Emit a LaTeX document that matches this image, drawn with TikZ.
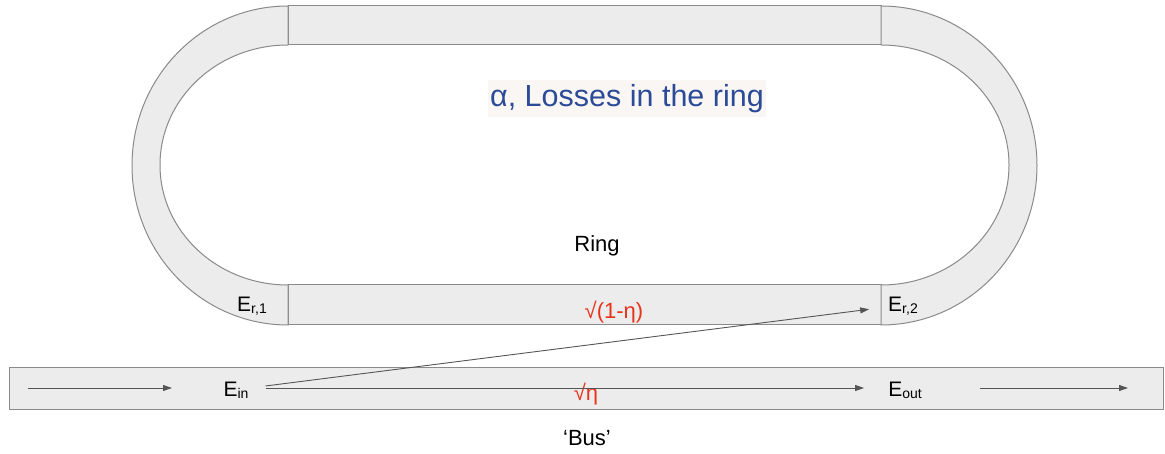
\documentclass[tikz,border=0pt]{standalone}
\usepackage{fontspec}
\setmainfont{Liberation Sans}
\usetikzlibrary{arrows.meta}
\definecolor{wg}{HTML}{ECECEC}
\definecolor{wgline}{HTML}{8A8A8A}
\definecolor{arr}{HTML}{555555}
\definecolor{redt}{HTML}{E8331C}
\definecolor{bluet}{HTML}{2B4A98}
\definecolor{boxbg}{HTML}{FAF6F4}
\tikzset{
  guide/.style={fill=wg, draw=wgline, line width=1pt},
  flow/.style={draw=arr, line width=0.9pt, -{Triangle[length=9pt,width=6pt]}},
  elabel/.style={inner sep=1pt, font=\fontsize{21}{23}\selectfont},
  redlabel/.style={text=redt, font=\fontsize{22}{24}\selectfont},
  plain/.style={font=\fontsize{22}{24}\selectfont}
}
\newcommand{\Esub}[1]{E{\fontsize{14}{16}\selectfont\raisebox{-2pt}{#1}}}
\begin{document}
\begin{tikzpicture}[x=1pt,y=-1pt]
\useasboundingbox (0,0) rectangle (1165,454);
% ring straight parts
\path[guide] (288,6) rectangle (881,45);
\path[guide] (288,285) rectangle (881,325);
% left half annulus
\path[guide] (288,6) arc[start angle=270, end angle=90, x radius=156, y radius=159.5]
  -- (288,285) arc[start angle=90, end angle=270, x radius=128, y radius=120] -- cycle;
% right half annulus
\path[guide] (881,6) arc[start angle=270, end angle=450, x radius=156, y radius=159.5]
  -- (881,285) arc[start angle=90, end angle=-90, x radius=128, y radius=120] -- cycle;
% bus
\path[guide] (9,368) rectangle (1163,409);
% labels
\node[fill=boxbg, text=bluet, font=\fontsize{30.5}{33}\selectfont, minimum width=278pt, minimum height=37pt, inner sep=0pt] (alpha) at (627,99) {α, Losses in the ring};
\node[plain] (ring) at (597,246) {Ring};
\node[plain] (bus) at (587,438) {‘Bus’};
\node[elabel] (Er1) at (252,306) {\Esub{r,1}};
\node[elabel] (Er2) at (903,306) {\Esub{r,2}};
\node[elabel] (Ein) at (236,390) {\Esub{in}};
\node[elabel] (Eout) at (905,390) {\Esub{out}};
\node[redlabel] (sq1) at (614,312) {√(1-η)};
\node[redlabel] (sq2) at (586,394) {√η};
% arrows
\coordinate (inL) at (28,388);
\coordinate (inR) at (172,388);
\coordinate (outL) at (980,388);
\coordinate (outR) at (1128,388);
\draw[flow] (inL) -- (inR);
\draw[flow] (outL) -- (outR);
\draw[flow, shorten <=16pt, shorten >=23pt] (Ein.east |- inL) -- (Eout.west |- inL);
\draw[flow, shorten <=16pt, shorten >=18pt] (Ein.east |- inL) -- (Er2.west |- 0,307);
\end{tikzpicture}
\end{document}
